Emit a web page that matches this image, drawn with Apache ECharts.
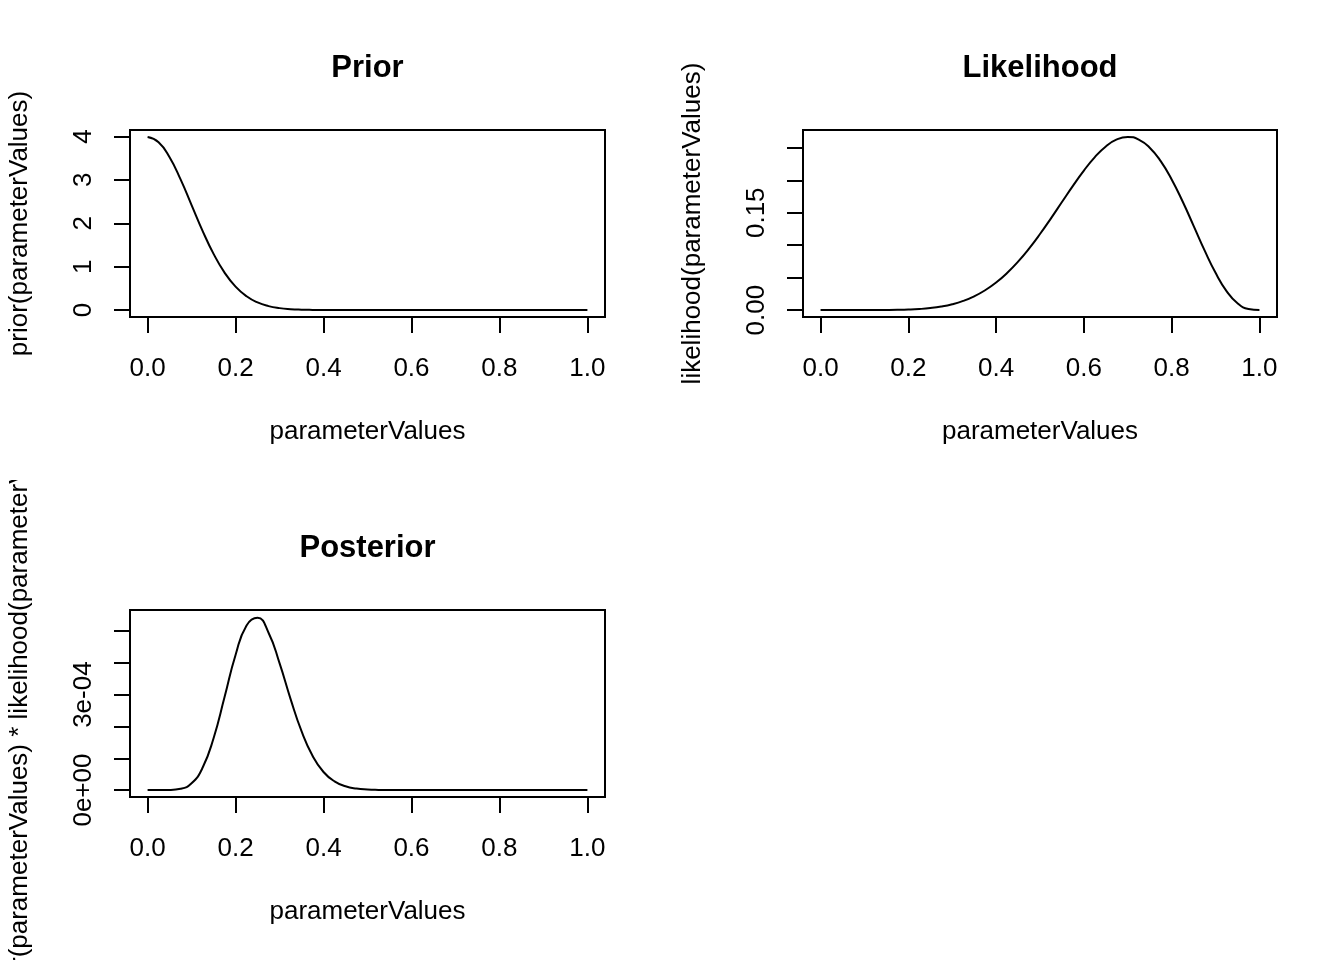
<!DOCTYPE html>
<html>
<head>
<meta charset="utf-8">
<script src="https://cdn.jsdelivr.net/npm/echarts@6/dist/echarts.min.js"></script>
<style>
  html, body { margin: 0; padding: 0; background: #fff; }
  #chart { width: 1344px; height: 960px; }
</style>
</head>
<body>
<div id="chart"></div>
<script>
// ---- data ----
const parameterValues = [0, 0.025, 0.05, 0.075, 0.1, 0.125, 0.15, 0.175, 0.2, 0.225, 0.25, 0.275, 0.3, 0.325, 0.35, 0.375, 0.4, 0.425, 0.45, 0.475, 0.5, 0.525, 0.55, 0.575, 0.6, 0.625, 0.65, 0.675, 0.7, 0.725, 0.75, 0.775, 0.8, 0.825, 0.85, 0.875, 0.9, 0.925, 0.95, 0.975, 1.0];

const priorValues = [3.989, 3.867, 3.521, 3.011, 2.420, 1.826, 1.295, 0.8628, 0.5399, 0.3174, 0.1753, 0.09094, 0.04432, 0.02029, 0.008727, 0.003526, 0.001338, 0.000477, 0.00016, 0.00005, 0.0000149, 0, 0, 0, 0, 0, 0, 0, 0, 0, 0, 0, 0, 0, 0, 0, 0, 0, 0, 0, 0];

const likelihoodValues = [0, 0.0000000007, 0.0000000804, 0.000001268, 0.000008748, 0.00003833, 0.00012591, 0.0003387, 0.0007864, 0.0016307, 0.0030899, 0.005439, 0.0090017, 0.014135, 0.021203, 0.030551, 0.042467, 0.057136, 0.074603, 0.094735, 0.117188, 0.14137, 0.16648, 0.19143, 0.21499, 0.23574, 0.25222, 0.263, 0.26683, 0.26275, 0.25028, 0.22953, 0.20133, 0.16729, 0.12983, 0.092037, 0.057396, 0.029333, 0.010475, 0.0015711, 0];

const posteriorValues = [0, 0.0000000026, 0.000000283, 0.000003818, 0.00002117, 0.00006999, 0.00016305, 0.00029223, 0.00042458, 0.00051758, 0.00054166, 0.00049462, 0.00039896, 0.0002868, 0.00018504, 0.00010772, 0.00005682, 0.00002725, 0.0000119, 0.0000047, 0.00000174, 0.00000058, 0.00000018, 0.00000005, 0, 0, 0, 0, 0, 0, 0, 0, 0, 0, 0, 0, 0, 0, 0, 0, 0];

const xTicks = [0, 0.2, 0.4, 0.6, 0.8, 1.0];
const priorTicks = [0, 1, 2, 3, 4];
const priorLabels = [0, 1, 2, 3, 4];
const likelihoodTicks = [0, 0.05, 0.1, 0.15, 0.2, 0.25];
const likelihoodLabels = [0, 0.15];
const posteriorTicks = [0, 0.0001, 0.0002, 0.0003, 0.0004, 0.0005];
const posteriorLabels = [0, 0.0003];

const titles = ['Prior', 'Likelihood', 'Posterior'];
const xName = 'parameterValues';
const yNames = ['prior(parameterValues)', 'likelihood(parameterValues)', 'prior(parameterValues) * likelihood(parameterValues)'];

// ---- chart ----
const FONT = '"Liberation Sans", Arial, Helvetica, sans-serif';
const pairs = ys => parameterValues.map((x, i) => [x, ys[i]]);

function rExp(v) {
  if (v === 0) return '0e+00';
  const e = Math.floor(Math.log10(Math.abs(v)) + 1e-9);
  const m = Math.round(v / Math.pow(10, e));
  return m + 'e' + (e < 0 ? '-' : '+') + String(Math.abs(e)).padStart(2, '0');
}

const grids = [
  { left: 130, top: 130, width: 475, height: 187 },
  { left: 803, top: 130, width: 474, height: 187 },
  { left: 130, top: 610, width: 475, height: 187 }
].map(g => Object.assign(g, {
  show: true, borderColor: '#000', borderWidth: 2, backgroundColor: 'transparent',
  containLabel: false, outerBoundsMode: 'none'
}));

const baseText = { color: '#000', fontFamily: FONT, fontSize: 26 };

const xAxes = [0, 1, 2].map(i => ({
  type: 'value', gridIndex: i, min: -0.04, max: 1.04, position: 'bottom',
  axisLine: { show: false, onZero: false },
  splitLine: { show: false },
  axisTick: { show: true, length: 16, inside: false, customValues: xTicks, lineStyle: { color: '#000', width: 2 } },
  axisLabel: Object.assign({ show: true, margin: 39, customValues: xTicks, formatter: v => v.toFixed(1) }, baseText),
  name: xName, nameLocation: 'middle', nameGap: 102,
  nameTextStyle: baseText
}));

const yCfg = [
  { min: -0.16, max: 4.149, ticks: priorTicks, labels: priorLabels, fmt: v => String(v) },
  { min: -0.01067, max: 0.2775, ticks: likelihoodTicks, labels: likelihoodLabels, fmt: v => v.toFixed(2) },
  { min: -0.0000218, max: 0.000566, ticks: posteriorTicks, labels: posteriorLabels, fmt: rExp }
];

const yAxes = yCfg.map((c, i) => ({
  type: 'value', gridIndex: i, min: c.min, max: c.max, position: 'left',
  axisLine: { show: false, onZero: false },
  splitLine: { show: false },
  axisTick: { show: true, length: 16, inside: false, customValues: c.ticks, lineStyle: { color: '#000', width: 2 } },
  axisLabel: Object.assign({ show: true, rotate: 90, margin: 33, customValues: c.labels, formatter: c.fmt }, baseText),
  name: yNames[i], nameLocation: 'middle', nameGap: 97, nameRotate: 90,
  nameTextStyle: baseText
}));

const series = [priorValues, likelihoodValues, posteriorValues].map((ys, i) => ({
  type: 'line', xAxisIndex: i, yAxisIndex: i,
  data: pairs(ys), showSymbol: false, symbol: 'none',
  smooth: 0.5,
  lineStyle: { color: '#000', width: 2 },
  animation: false, silent: true
}));

const titleOpts = [
  { text: titles[0], left: 367.5, top: 53 },
  { text: titles[1], left: 1040, top: 53 },
  { text: titles[2], left: 367.5, top: 533 }
].map(t => Object.assign(t, {
  textAlign: 'center', padding: 0,
  textStyle: { color: '#000', fontFamily: FONT, fontSize: 31, fontWeight: 'bold' }
}));

const chart = echarts.init(document.getElementById('chart'), null, { renderer: 'canvas' });
chart.setOption({
  backgroundColor: '#fff',
  animation: false,
  title: titleOpts,
  grid: grids,
  xAxis: xAxes,
  yAxis: yAxes,
  series: series,
  graphic: [
    { type: 'rect', z: 100, shape: { x: 0, y: 372, width: 60, height: 108 }, style: { fill: '#fff' } }
  ]
});
</script>
</body>
</html>
